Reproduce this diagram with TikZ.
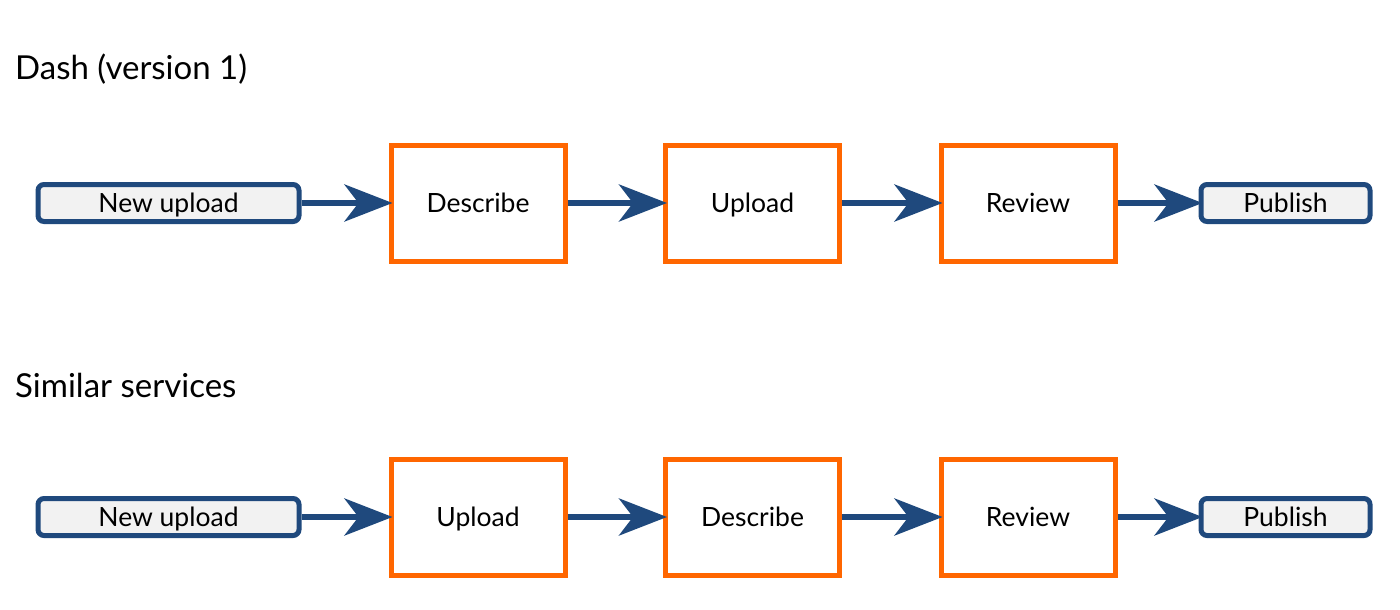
\documentclass[tikz,border=0pt]{standalone}
\usepackage{fontspec}
\setmainfont{Lato}
\usetikzlibrary{arrows.meta}
\definecolor{dblue}{HTML}{1F497D}
\definecolor{orng}{HTML}{FF6600}
\definecolor{lgray}{HTML}{F2F2F2}
\begin{document}
\begin{tikzpicture}[x=1pt,y=-1pt,
  lbl/.style={font=\fontsize{26.5}{30}\selectfont,text height=22pt,text depth=3pt},
  endbox/.style={lbl,draw=dblue,fill=lgray,line width=5pt,rounded corners=6pt,minimum height=37pt,inner sep=0pt},
  stepbox/.style={lbl,draw=orng,line width=5pt,minimum width=174pt,minimum height=116pt,inner sep=0pt},
  flow/.style={draw=dblue,line width=6pt,shorten >=-4pt,-{Stealth[length=48pt,width=37pt,inset=14pt]}},
  title/.style={anchor=west,inner sep=0pt,font=\fontsize{33}{38}\selectfont,text height=28pt,text depth=4pt}]
\useasboundingbox (0,0) rectangle (1400,610);
\node[title] (t1) at (15,68) {Dash (version 1)};
\node[title] (t2) at (15,385) {Similar services};
% row 1
\node[endbox,minimum width=261pt] (a1) at (168.5,203) {New upload};
\node[stepbox] (b1) at (478,203) {Describe};
\node[stepbox] (c1) at (752.5,203) {Upload};
\node[stepbox] (d1) at (1028,203) {Review};
\node[endbox,minimum width=169pt] (e1) at (1285.5,203) {Publish};
\draw[flow] (a1) -- (b1);
\draw[flow] (b1) -- (c1);
\draw[flow] (c1) -- (d1);
\draw[flow] (d1) -- (e1);
% row 2
\node[endbox,minimum width=261pt] (a2) at (168.5,517) {New upload};
\node[stepbox] (b2) at (478,517) {Upload};
\node[stepbox] (c2) at (752.5,517) {Describe};
\node[stepbox] (d2) at (1028,517) {Review};
\node[endbox,minimum width=169pt] (e2) at (1285.5,517) {Publish};
\draw[flow] (a2) -- (b2);
\draw[flow] (b2) -- (c2);
\draw[flow] (c2) -- (d2);
\draw[flow] (d2) -- (e2);
\end{tikzpicture}
\end{document}
